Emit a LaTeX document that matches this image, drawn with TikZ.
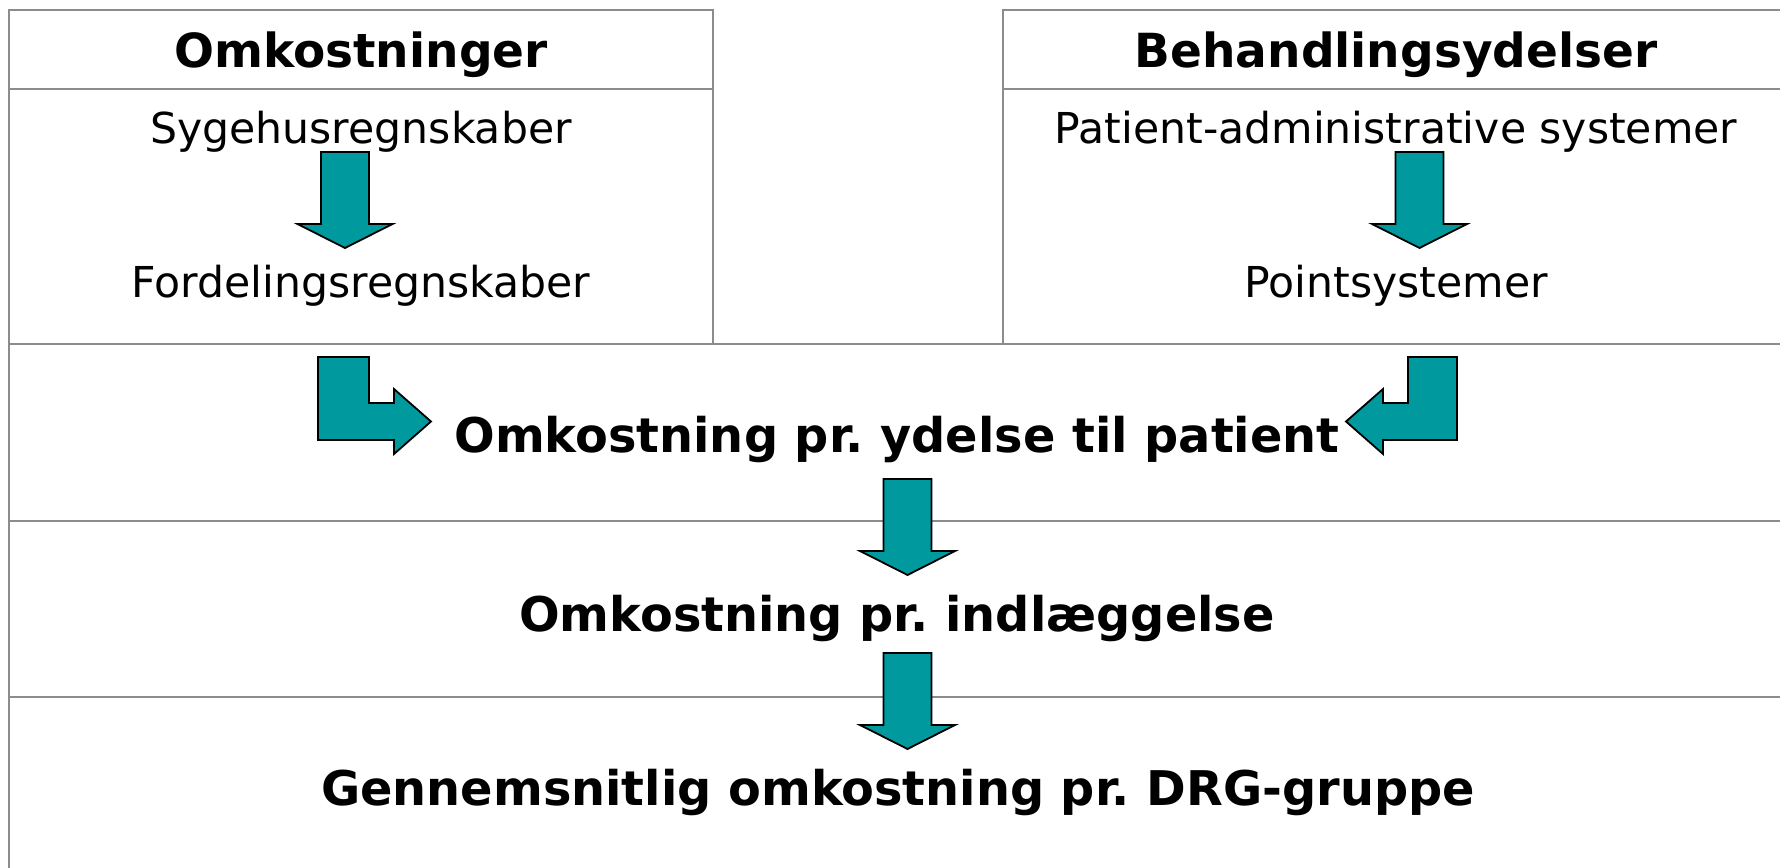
\documentclass[tikz,border=0pt]{standalone}
\usepackage{fontspec}
\setmainfont{DejaVu Sans}
\frenchspacing
\definecolor{arrowteal}{RGB}{0,153,158}
\definecolor{framegray}{RGB}{140,140,140}
\tikzset{
  frame/.style={draw=framegray, line width=1pt},
  blk/.style={draw=black, fill=arrowteal, line width=0.9pt, line join=miter},
  hdr/.style={anchor=base, inner sep=0pt, font=\fontsize{23.5pt}{28pt}\selectfont\bfseries},
  sub/.style={anchor=base, inner sep=0pt, font=\fontsize{21.3pt}{26pt}\selectfont},
  big/.style={anchor=base, inner sep=0pt, font=\fontsize{23.9pt}{28pt}\selectfont\bfseries},
  downarr/.pic={\draw[blk] (-24,0) -- (24,0) -- (24,72) -- (47.5,72) -- (0,96) -- (-47.5,72) -- (-24,72) -- cycle;},
}
\begin{document}
\begin{tikzpicture}[x=0.5pt,y=-0.5pt]
\useasboundingbox (0,0) rectangle (1780,867);
\begin{scope}
\clip (0,0) rectangle (1780,867);
\draw[frame] (9,10) rectangle (713,344);
\draw[frame] (1003,10) rectangle (1800,344);
\draw[frame] (9,89) -- (713,89);
\draw[frame] (1003,89) -- (1800,89);
\draw[frame] (9,344) -- (9,880);
\draw[frame] (9,344) -- (1800,344);
\draw[frame] (9,521) -- (1800,521);
\draw[frame] (9,697) -- (1800,697);
\end{scope}
% texts
\node[hdr] (h1) at (361,67) {Omkostninger};
\node[hdr] (h2) at (1396,67) {Behandlingsydelser};
\node[sub] (s1) at (361,143) {Sygehusregnskaber};
\node[sub] (f1) at (361,297) {Fordelingsregnskaber};
\node[sub] (p1) at (1396,143) {Patient-administrative systemer};
\node[sub] (p2) at (1396,297) {Pointsystemer};
\node[big] (r1) at (897,452) {Omkostning pr. ydelse til patient};
\node[big] (r2) at (897,631) {Omkostning pr. indlæggelse};
\node[big] (r3) at (898,805) {Gennemsnitlig omkostning pr. DRG-gruppe};
% block arrows
\pic at (345,152) {downarr};
\pic at (1419.5,152) {downarr};
\pic at (907.5,479) {downarr};
\pic at (907.5,653) {downarr};
\draw[blk] (318,357) -- (369,357) -- (369,403) -- (394,403) -- (394,389) -- (431,421.5) -- (394,454) -- (394,440) -- (318,440) -- cycle;
\draw[blk] (1457,357) -- (1408,357) -- (1408,403) -- (1383,403) -- (1383,389) -- (1346,421.5) -- (1383,454) -- (1383,440) -- (1457,440) -- cycle;
\end{tikzpicture}
\end{document}
